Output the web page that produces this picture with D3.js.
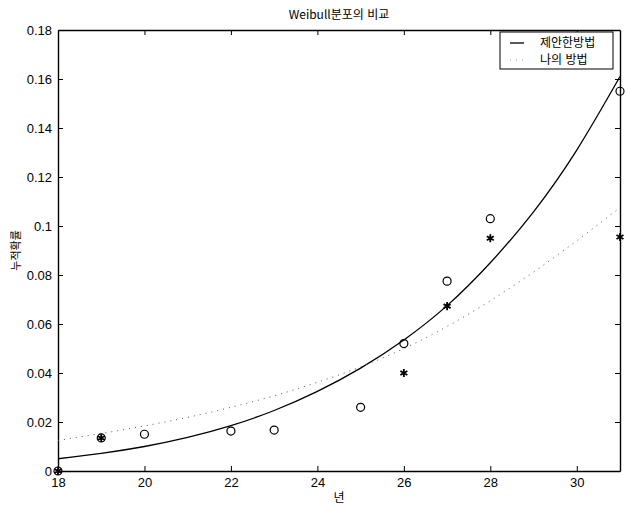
<!DOCTYPE html>
<html lang="ko">

<head>
    <meta charset="UTF-8">
    <title>Weibull분포의 비교</title>
    <script src="https://d3js.org/d3.v7.min.js"></script>
    <style type="text/css">
        body {
            margin: 0;
            background-color: #fff;
        }

        text {
            font-family: "Liberation Sans", Arial, "Noto Sans CJK KR", sans-serif;
        }

        .kr {
            font-family: "Noto Sans CJK KR", sans-serif;
        }
    </style>
</head>

<body>
    <div id="chartArea"></div>
    <script type="text/javascript">
        // 곡선
        var years = [18, 19, 20, 21, 22, 23, 24, 25, 26, 27, 28, 29, 30, 31];
        var proposed = [0.005, 0.0072, 0.0100, 0.0137, 0.0185, 0.0247, 0.0325, 0.0420, 0.0535, 0.0675, 0.0850, 0.1058, 0.1310, 0.1610];
        var mine = [0.0125, 0.0153, 0.0184, 0.0219, 0.0260, 0.0307, 0.0362, 0.0425, 0.0500, 0.0590, 0.0695, 0.0812, 0.0940, 0.1075];

        // 관측 점
        var circleYears = [18, 19, 20, 22, 23, 25, 26, 27, 28, 31];
        var circleVals = [0, 0.0135, 0.015, 0.0163, 0.0167, 0.026, 0.052, 0.0775, 0.103, 0.155];
        var starYears = [18, 19, 26, 27, 28, 31];
        var starVals = [0, 0.0135, 0.040, 0.0673, 0.095, 0.0955];

        var xTicks = [18, 20, 22, 24, 26, 28, 30];
        var yTicks = [0, 0.02, 0.04, 0.06, 0.08, 0.1, 0.12, 0.14, 0.16, 0.18];
        var legendLabels = ['제안한방법', '나의 방법'];

        var W = 626, H = 507;
        var margin = { top: 30, right: 6, bottom: 36, left: 58 };
        var w = W - margin.left - margin.right, h = H - margin.top - margin.bottom;

        var svg = d3.select('#chartArea').append('svg')
            .attr('width', W)
            .attr('height', H);

        var g = svg.append('g')
            .attr('transform', 'translate(' + margin.left + ',' + margin.top + ')');

        var xScale = d3.scaleLinear().domain([18, 31]).range([0, w]);
        var yScale = d3.scaleLinear().domain([0, 0.18]).range([h, 0]);

        // axes, ticks inward on all four sides
        g.append('g')
            .attr('transform', 'translate(0,' + h + ')')
            .call(d3.axisBottom(xScale).tickValues(xTicks).tickSizeInner(-5).tickSizeOuter(0).tickPadding(7));
        g.append('g')
            .call(d3.axisTop(xScale).tickValues(xTicks).tickSizeInner(-5).tickSizeOuter(0).tickFormat(''));
        g.append('g')
            .call(d3.axisLeft(yScale).tickValues(yTicks).tickSizeInner(-5).tickSizeOuter(0).tickPadding(6)
                .tickFormat(function (d) { return d3.format('~g')(d); }));
        g.append('g')
            .attr('transform', 'translate(' + w + ',0)')
            .call(d3.axisRight(yScale).tickValues(yTicks).tickSizeInner(-5).tickSizeOuter(0).tickFormat(''));

        g.selectAll('.domain').attr('stroke', '#000').attr('stroke-width', 1.4);
        g.selectAll('.tick line').attr('stroke', '#000');
        g.selectAll('.tick text')
            .attr('font-size', 13)
            .attr('fill', '#000')
            .style('font-family', '"Liberation Sans", Arial, sans-serif');

        // curves
        var line = d3.line()
            .x(function (d) { return xScale(d[0]); })
            .y(function (d) { return yScale(d[1]); })
            .curve(d3.curveNatural);

        g.append('path')
            .datum(d3.zip(years, proposed))
            .attr('d', line)
            .attr('fill', 'none')
            .attr('stroke', '#000')
            .attr('stroke-width', 1.3);

        g.append('path')
            .datum(d3.zip(years, mine))
            .attr('d', line)
            .attr('fill', 'none')
            .attr('stroke', '#555')
            .attr('stroke-width', 1)
            .attr('stroke-dasharray', '1,5');

        // markers
        g.selectAll('circle.obs')
            .data(d3.zip(circleYears, circleVals))
            .enter()
            .append('circle')
            .attr('class', 'obs')
            .attr('cx', function (d) { return xScale(d[0]); })
            .attr('cy', function (d) { return yScale(d[1]); })
            .attr('r', 4)
            .attr('fill', 'none')
            .attr('stroke', '#000')
            .attr('stroke-width', 1.2);

        var star = d3.symbol().type(d3.symbolAsterisk).size(45);
        g.selectAll('path.star')
            .data(d3.zip(starYears, starVals))
            .enter()
            .append('path')
            .attr('class', 'star')
            .attr('d', star)
            .attr('transform', function (d) {
                return 'translate(' + xScale(d[0]) + ',' + yScale(d[1]) + ')';
            })
            .attr('fill', 'none')
            .attr('stroke', '#000')
            .attr('stroke-width', 1.8);

        // legend
        var lg = svg.append('g').attr('transform', 'translate(500,32)');
        lg.append('rect')
            .attr('width', 113)
            .attr('height', 37)
            .attr('fill', '#fff')
            .attr('stroke', '#000')
            .attr('stroke-width', 1);
        lg.append('line')
            .attr('x1', 10).attr('x2', 24)
            .attr('y1', 11).attr('y2', 11)
            .attr('stroke', '#000')
            .attr('stroke-width', 1.3);
        lg.append('line')
            .attr('x1', 10).attr('x2', 24)
            .attr('y1', 28).attr('y2', 28)
            .attr('stroke', '#999')
            .attr('stroke-dasharray', '1,5');
        lg.selectAll('text.lab')
            .data(legendLabels)
            .enter()
            .append('text')
            .attr('class', 'lab kr')
            .attr('x', 40)
            .attr('y', function (d, i) { return 15 + i * 17; })
            .attr('font-size', 12)
            .text(function (d) { return d; });

        // titles
        svg.append('text')
            .attr('class', 'kr')
            .attr('x', margin.left + w / 2)
            .attr('y', 19)
            .attr('text-anchor', 'middle')
            .attr('font-size', 12)
            .text('Weibull분포의 비교');

        svg.append('text')
            .attr('class', 'kr')
            .attr('x', margin.left + w / 2)
            .attr('y', 502)
            .attr('text-anchor', 'middle')
            .attr('font-size', 12)
            .text('년');

        svg.append('text')
            .attr('class', 'kr')
            .attr('transform', 'translate(20,' + (margin.top + h / 2) + ') rotate(-90)')
            .attr('text-anchor', 'middle')
            .attr('font-size', 11)
            .text('누적확률');
    </script>
</body>

</html>
